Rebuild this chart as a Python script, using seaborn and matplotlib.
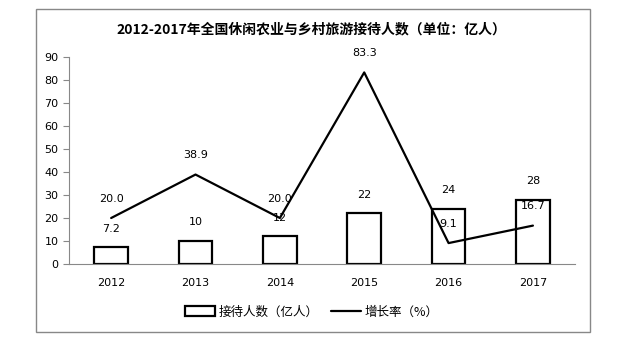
import matplotlib
matplotlib.use('Agg')
import matplotlib.pyplot as plt
import seaborn as sns
import pandas as pd
from matplotlib.patches import Patch, Rectangle
from matplotlib.lines import Line2D

years = ['2012', '2013', '2014', '2015', '2016', '2017']
visitors = [7.2, 10, 12, 22, 24, 28]          # 接待人数（亿人）
growth = [20.0, 38.9, 20.0, 83.3, 9.1, 16.7]  # 增长率（%）
visitor_labels = ['7.2', '10', '12', '22', '24', '28']
growth_labels = ['20.0', '38.9', '20.0', '83.3', '9.1', '16.7']

df = pd.DataFrame({'year': years, 'visitors': visitors, 'growth': growth})

sns.set_style('white')
plt.rcParams['font.family'] = ['DejaVu Sans', 'Noto Sans CJK SC']
plt.rcParams['text.color'] = 'black'
plt.rcParams['xtick.color'] = 'black'
plt.rcParams['ytick.color'] = 'black'
cjk = ['Noto Sans CJK SC', 'DejaVu Sans']

fig = plt.figure(figsize=(6.17, 3.55), dpi=100)
ax = fig.add_axes([0.1118, 0.2563, 0.8203, 0.5831])

sns.barplot(data=df, x='year', y='visitors', color='white', edgecolor='black',
            linewidth=1.6, width=0.4, ax=ax)
sns.pointplot(data=df, x='year', y='growth', color='black', markers='',
              linestyles='-', linewidth=1.6, errorbar=None, ax=ax)

for i, (v, lab) in enumerate(zip(visitors, visitor_labels)):
    ax.annotate(lab, (i, v), xytext=(0, 10), textcoords='offset points',
                ha='center', va='bottom', fontsize=8, color='black')
for i, (g, lab) in enumerate(zip(growth, growth_labels)):
    ax.annotate(lab, (i, g), xytext=(0, 14), textcoords='offset points',
                ha='center', va='center', fontsize=8, color='black')

ax.set_ylim(0, 90)
ax.set_xlim(-0.5, 5.5)
ax.set_yticks(range(0, 91, 10))
ax.set_xlabel('')
ax.set_ylabel('')
ax.set_xticks([i - 0.5 for i in range(7)], minor=True)
ax.tick_params(axis='x', which='major', length=0, pad=10, labelsize=8, labelcolor='black')
ax.tick_params(axis='x', which='minor', length=4, color='#888888', width=0.8, direction='out')
ax.tick_params(axis='y', length=4, color='#888888', width=0.8, direction='out',
               labelsize=8, labelcolor='black', left=True)
for s in ['top', 'right']:
    ax.spines[s].set_visible(False)
for s in ['left', 'bottom']:
    ax.spines[s].set_color('#888888')
    ax.spines[s].set_linewidth(0.8)

fig.text(0.504, 0.918, '2012-2017年全国休闲农业与乡村旅游接待人数（单位：亿人）',
         ha='center', va='center', fontsize=10, fontweight='bold', color='black',
         family=cjk)

handles = [Patch(facecolor='white', edgecolor='black', linewidth=1.6, label='接待人数（亿人）'),
           Line2D([], [], color='black', linewidth=1.6, label='增长率（%）')]
fig.legend(handles=handles, loc='center', bbox_to_anchor=(0.505, 0.121), ncol=2,
           frameon=False, handlelength=2.4, handleheight=0.8,
           columnspacing=1.0, handletextpad=0.3,
           prop={'family': cjk, 'size': 9}, labelcolor='black')

fig.patches.append(Rectangle((0.0583, 0.0648), 0.8977, 0.9098, transform=fig.transFigure,
                             fill=False, edgecolor='#888888', linewidth=1.0))

fig.savefig('out.png', dpi=100)
